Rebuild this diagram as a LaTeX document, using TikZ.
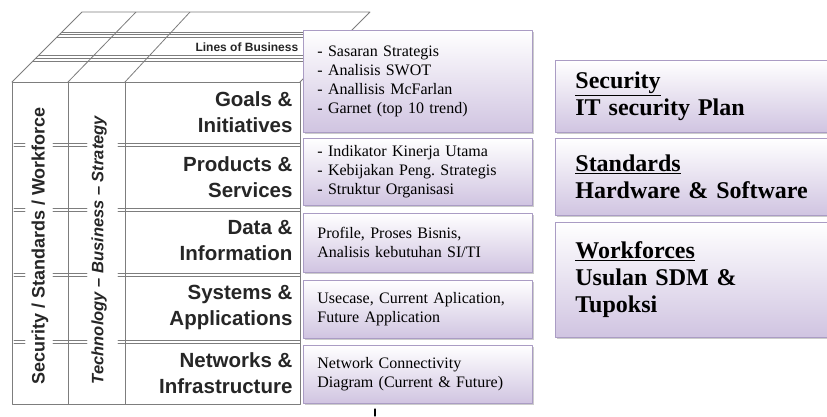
\documentclass[tikz,border=0pt]{standalone}
\usepackage{fontspec}
\setmainfont{Liberation Serif}
\newfontfamily\arialfont[Ligatures=TeX]{Liberation Sans}
\usetikzlibrary{shadows}
\definecolor{gridline}{RGB}{125,125,125}
\definecolor{boxedge}{RGB}{170,156,196}
\definecolor{boxfill}{RGB}{208,196,225}
\frenchspacing

\begin{document}
\begin{tikzpicture}[
						x=1pt, y=-1pt,
						line cap=round,
						line join=round,
						layer/.style={font=\arialfont\bfseries\fontsize{20.5}{26}\selectfont, align=right, anchor=east, text=black!85},
						pillar/.style={rotate=90, text=black!85},
						notebox/.style={draw=boxedge, line width=0.8pt, top color=white, bottom color=boxfill,
							drop shadow={shadow xshift=1.5pt, shadow yshift=-1.5pt, fill=black!40},
							anchor=north west, inner xsep=14pt, text width=201pt, align=left,
							font=\fontsize{16}{19}\selectfont},
						topicbox/.style={notebox, inner xsep=20pt, text width=237pt,
							font=\bfseries\fontsize{24}{27}\selectfont}
						]
						
						\useasboundingbox (0,0) rectangle (827,416);
						
						% top of the block
						\begin{scope}
							\clip (12,82) -- (82,12) -- (370,12) -- (300,82) -- cycle;
							\fill[white] (0,0) rectangle (400,90);
							\draw[gridline, line width=0.8pt] (0,32) -- (400,32) (0,34.5) -- (400,34.5) (0,37) -- (400,37);
							\draw[gridline, line width=0.8pt] (0,55) -- (400,55) (0,58) -- (400,58) (0,61.5) -- (400,61.5);
							\draw[gridline, line width=0.8pt] (68,82) -- (136,12) (125,82) -- (190,12);
						\end{scope}
						\draw[gridline, line width=0.8pt] (12,82) -- (82,12) -- (370,12) -- (300,82);
						\node[font=\arialfont\bfseries\fontsize{12}{14}\selectfont, anchor=west, text=black!85] (business) at (192,47) {Lines of Business};
						
						% front of the block
						\draw[gridline, line width=0.8pt, fill=white] (12,82) rectangle (300,404);
						\draw[gridline, line width=0.8pt] (68,82) -- (68,404) (125,82) -- (125,404);
						\foreach \y in {143,208,273,340}{
							\draw[gridline, line width=0.7pt] (14,\y) -- (25,\y) (53,\y) -- (87,\y) (118,\y) -- (300,\y);
							\draw[gridline, line width=0.7pt] (14,\y+3) -- (25,\y+3) (53,\y+3) -- (87,\y+3) (118,\y+3) -- (300,\y+3);
						}
						
						\node[pillar, font=\arialfont\bfseries\fontsize{18}{20}\selectfont] (security) at (40,246) {Security / Standards / Workforce};
						\node[pillar, font=\arialfont\bfseries\itshape\fontsize{16.5}{20}\selectfont] (technology) at (99,250) {Technology -- Business -- Strategy};
						
						\node[layer] (goals) at (296,112) {Goals \&\\Initiatives};
						\node[layer] (products) at (296,177) {Products \&\\Services};
						\node[layer] (data) at (296,241) {Data \&\\Information};
						\node[layer] (systems) at (296,307) {Systems \&\\Applications};
						\node[layer] (networks) at (296,373) {Networks \&\\Infrastructure};
						
						% notes on each layer
						\node[notebox, minimum height=102pt] (goalsnote) at (303,30)
						{- Sasaran Strategis\\- Analisis SWOT\\- Anallisis McFarlan\\- Garnet (top 10 trend)};
						\node[notebox, minimum height=67pt] (productsnote) at (303,138)
						{- Indikator Kinerja Utama\\- Kebijakan Peng. Strategis\\- Struktur Organisasi};
						\node[notebox, minimum height=59pt] (datanote) at (303,213)
						{Profile, Proses Bisnis,\\Analisis kebutuhan SI/TI};
						\node[notebox, minimum height=58pt] (systemsnote) at (303,280)
						{Usecase, Current Aplication,\\Future Application};
						\node[notebox, minimum height=58pt] (networknote) at (303,345)
						{Network Connectivity\\Diagram (Current \& Future)};
						
						\coordinate (tailtop) at (375,409);
						\coordinate (tailend) at (375,416);
						\draw[line width=1.2pt] (tailtop) -- (tailend);
						
						% pillars on the right
						\node[topicbox, minimum height=72pt] (securitybox) at (555,60)
						{\underline{Security}\\IT security Plan};
						\node[topicbox, minimum height=77pt] (standardsbox) at (555,138)
						{\underline{Standards}\\Hardware \& Software};
						\node[topicbox, minimum height=115pt] (workforcebox) at (555,222)
						{\underline{Workforces}\\Usulan SDM \&\\Tupoksi\\[8pt]};
						
					\end{tikzpicture}
\end{document}
